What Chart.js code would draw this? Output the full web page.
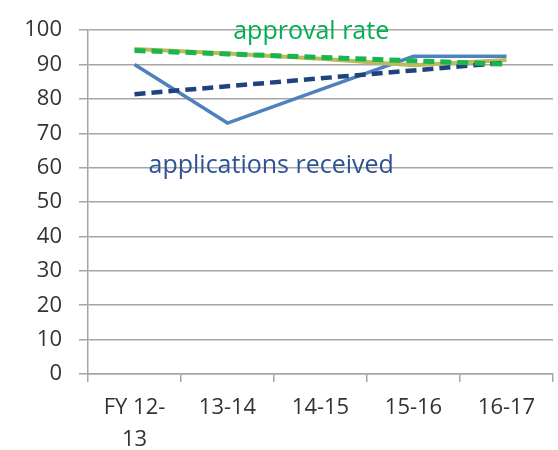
<!DOCTYPE html>
<html>
<head>
<meta charset="utf-8">
<script src="https://cdn.jsdelivr.net/npm/chart.js@4"></script>
<style>
  html, body { margin: 0; padding: 0; background: #fff; }
  #wrap { width: 558px; height: 450px; }
</style>
</head>
<body>
<div id="wrap"><canvas id="chart" width="558" height="450"></canvas></div>
<script>
// categories (fiscal years)
const years = [['FY 12-', '13'], '13-14', '14-15', '15-16', '16-17'];

// series
const applications = [90, 73, 82.7, 92.4, 92.4];
const applicationsTrend = [81.4, 83.7, 86.0, 88.3, 90.6];
const approval = [94.5, 93.2, 91.7, 89.8, 91.3];
const approvalTrend = [94.1, 93.1, 92.1, 91.1, 90.1];

// y axis ticks
const yMin = 0;
const yMax = 100;
const yStep = 10;

const gridGray = '#a6a6a6';
const font = "'Open Sans', 'Noto Sans', sans-serif";

// text labels placed on the plot, anchored to category index / value
const notes = [
  { text: 'approval rate', at: 1.9, value: 97.3, color: '#00b050' },
  { text: 'applications received', at: 1.47, value: 58.6, color: '#2c5395' }
];

const notePlugin = {
  id: 'notes',
  afterDatasetsDraw(chart) {
    const ctx = chart.ctx;
    const x = chart.scales.x;
    const y = chart.scales.y;
    ctx.save();
    ctx.font = '25px ' + font;
    ctx.textAlign = 'center';
    ctx.textBaseline = 'alphabetic';
    notes.forEach(n => {
      ctx.fillStyle = n.color;
      ctx.fillText(n.text, x.getPixelForValue(n.at), y.getPixelForValue(n.value));
    });
    ctx.restore();
  }
};

new Chart(document.getElementById('chart'), {
  type: 'line',
  data: {
    labels: years,
    datasets: [
      {
        label: 'approval rate trend',
        data: approvalTrend,
        borderColor: '#1db44f',
        borderWidth: 5,
        borderDash: [11, 6],
        order: 0
      },
      {
        label: 'applications received trend',
        data: applicationsTrend,
        borderColor: '#1f437e',
        borderWidth: 4.5,
        borderDash: [11, 6],
        order: 1
      },
      {
        label: 'approval rate',
        data: approval,
        borderColor: '#b8bc5a',
        borderWidth: 4,
        order: 2
      },
      {
        label: 'applications received',
        data: applications,
        borderColor: '#4f81bd',
        borderWidth: 3.5,
        order: 3
      }
    ]
  },
  options: {
    responsive: false,
    animation: false,
    events: [],
    elements: {
      point: { radius: 0 },
      line: { tension: 0 }
    },
    layout: { padding: { top: 23, right: 5, left: 0, bottom: 0 } },
    plugins: {
      legend: { display: false },
      tooltip: { enabled: false }
    },
    scales: {
      x: {
        offset: true,
        grid: {
          offset: true,
          drawOnChartArea: false,
          tickLength: 8,
          color: gridGray,
          lineWidth: 1.5
        },
        border: { color: gridGray, width: 1.5 },
        ticks: {
          color: '#333',
          font: { family: font, size: 22, lineHeight: 1.45 },
          padding: 10,
          maxRotation: 0,
          autoSkip: false
        },
        afterFit(scale) { scale.height = 76; }
      },
      y: {
        min: yMin,
        max: yMax,
        grid: {
          color: gridGray,
          lineWidth: 1.5,
          tickLength: 9
        },
        border: { color: gridGray, width: 1.5 },
        ticks: {
          stepSize: yStep,
          color: '#333',
          font: { family: font, size: 22 },
          padding: 17
        },
        afterFit(scale) { scale.width = 88; }
      }
    }
  },
  plugins: [notePlugin]
});
</script>
</body>
</html>
